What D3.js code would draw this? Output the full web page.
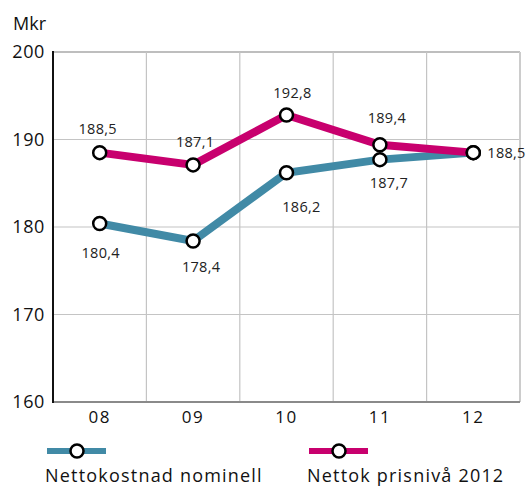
<!DOCTYPE html>
<html>
<head>
<meta charset="utf-8">
<script src="https://cdn.jsdelivr.net/npm/d3@7"></script>
<style>
  html, body { margin: 0; padding: 0; background: #fff; }
  svg { display: block; font-family: "Open Sans", "Noto Sans", sans-serif; }
</style>
</head>
<body>
<svg id="chart" width="528" height="486"></svg>
<script>
// Years on the x axis and the two cost series (Mkr)
const years = ["08", "09", "10", "11", "12"];
const nominell = [180.4, 178.4, 186.2, 187.7, 188.5];
const prisniva = [188.5, 187.1, 192.8, 189.4, 188.5];
const yTicks = [160, 170, 180, 190, 200];
const seriesNames = ["Nettokostnad nominell", "Nettok prisnivå 2012"];
const seriesColors = ["#418aa6", "#c8006e"];

// Label placement per point: [dx, dy] relative to the marker
const nominellLabelPos = [[1, 34], [8, 31], [15, 39], [9, 28], null];
const prisnivaLabelPos = [[-2, -19], [2, -18], [6, -17], [7, -22], [14, 5]];

const svg = d3.select("#chart");
const margin = { left: 53, right: 8, top: 52, bottom: 84 };
const W = 528, H = 486;

const x = d3.scaleBand().domain(years).range([margin.left, W - margin.right]).padding(0);
const y = d3.scaleLinear().domain([160, 200]).range([H - margin.bottom, margin.top]);
const fmt = v => d3.format(".1f")(v).replace(".", ",");

// Horizontal grid
svg.append("g").selectAll("line").data(yTicks.filter(t => t > 160)).join("line")
  .attr("x1", margin.left).attr("x2", W - margin.right)
  .attr("y1", d => y(d)).attr("y2", d => y(d))
  .attr("stroke", d => d === 200 ? "#a8a8a8" : "#c4c4c4").attr("stroke-width", d => d === 200 ? 1.5 : 1.2);

// Vertical grid between the year bands
svg.append("g").selectAll("line").data(years.slice(1)).join("line")
  .attr("x1", d => x(d)).attr("x2", d => x(d))
  .attr("y1", y(200)).attr("y2", y(160))
  .attr("stroke", "#c4c4c4").attr("stroke-width", 1.2);

// Right frame edge
svg.append("line")
  .attr("x1", W - margin.right).attr("x2", W - margin.right)
  .attr("y1", y(200)).attr("y2", y(160))
  .attr("stroke", "#cccccc").attr("stroke-width", 2);

// Bottom axis
svg.append("line")
  .attr("x1", margin.left).attr("x2", W - margin.right)
  .attr("y1", y(160)).attr("y2", y(160))
  .attr("stroke", "#8a8a8a").attr("stroke-width", 2);

// Left axis
svg.append("line")
  .attr("x1", margin.left).attr("x2", margin.left)
  .attr("y1", y(200) - 1).attr("y2", y(160) + 1)
  .attr("stroke", "#111").attr("stroke-width", 2);

// Y tick labels
svg.append("g").selectAll("text").data(yTicks).join("text")
  .attr("x", 45).attr("y", d => y(d) + 6)
  .attr("text-anchor", "end").attr("font-size", 18).attr("letter-spacing", 0.6).attr("fill", "#111")
  .text(d => d);

// Unit label
svg.append("text").attr("x", 13).attr("y", 30)
  .attr("font-size", 18).attr("fill", "#111").text("Mkr");

// X tick labels
svg.append("g").selectAll("text").data(years).join("text")
  .attr("x", d => x(d) + x.bandwidth() / 2).attr("y", 423)
  .attr("text-anchor", "middle").attr("font-size", 17).attr("letter-spacing", 1.5).attr("fill", "#111")
  .text(d => d);

const line = d3.line().x((d, i) => x(years[i]) + x.bandwidth() / 2).y(d => y(d));

function drawSeries(values, color) {
  svg.append("path").datum(values).attr("d", line)
    .attr("fill", "none").attr("stroke", color)
    .attr("stroke-width", 8).attr("stroke-linejoin", "miter");
}

function drawMarkers(values, labelPos) {
  const g = svg.append("g");
  g.selectAll("circle").data(values).join("circle")
    .attr("cx", (d, i) => x(years[i]) + x.bandwidth() / 2)
    .attr("cy", d => y(d)).attr("r", 6.5)
    .attr("fill", "#fff").attr("stroke", "#000").attr("stroke-width", 2.5);
  g.selectAll("text").data(values.map((v, i) => ({ v, i, p: labelPos[i] })).filter(d => d.p))
    .join("text")
    .attr("x", d => x(years[d.i]) + x.bandwidth() / 2 + d.p[0])
    .attr("y", d => y(d.v) + d.p[1])
    .attr("text-anchor", d => d.i === years.length - 1 ? "start" : "middle")
    .attr("font-size", 14.5).attr("letter-spacing", 0.3).attr("fill", "#222")
    .text(d => fmt(d.v));
}

drawSeries(nominell, seriesColors[0]);
drawSeries(prisniva, seriesColors[1]);
drawMarkers(nominell, nominellLabelPos);
drawMarkers(prisniva, prisnivaLabelPos);

// Legend
const legend = svg.append("g");
[[47, 0], [309, 1]].forEach(([lx, k]) => {
  legend.append("line").attr("x1", lx).attr("x2", lx + 59)
    .attr("y1", 451).attr("y2", 451)
    .attr("stroke", seriesColors[k]).attr("stroke-width", 6);
  legend.append("circle").attr("cx", lx + 30).attr("cy", 451).attr("r", 6.5)
    .attr("fill", "#fff").attr("stroke", "#000").attr("stroke-width", 2.5);
  legend.append("text").attr("x", lx - 2).attr("y", 482)
    .attr("font-size", 18).attr("letter-spacing", 1.2).attr("fill", "#111").text(seriesNames[k]);
});
</script>
</body>
</html>
